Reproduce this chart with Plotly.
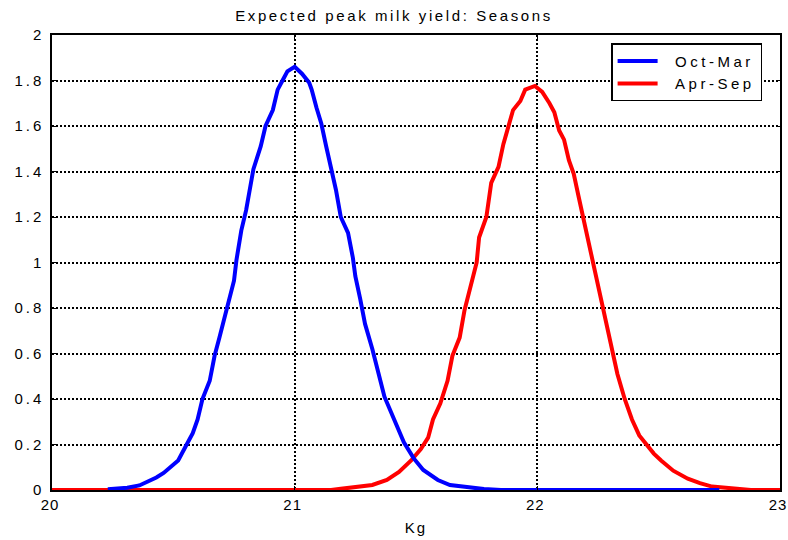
import plotly.graph_objects as go

# Oct-Mar (blue) density estimate
oct_mar_x = [20.23, 20.31, 20.36, 20.40, 20.43, 20.46, 20.49, 20.52, 20.55, 20.58,
             20.60, 20.62, 20.65, 20.67, 20.69, 20.72, 20.75, 20.76, 20.78, 20.80,
             20.83, 20.86, 20.88, 20.91, 20.93, 20.95, 20.97, 21.00, 21.03, 21.06,
             21.07, 21.09, 21.11, 21.13, 21.15, 21.17, 21.19, 21.22, 21.24, 21.25,
             21.27, 21.29, 21.32, 21.34, 21.37, 21.41, 21.45, 21.49, 21.53, 21.59,
             21.64, 21.71, 21.78, 21.85, 22.75]
oct_mar_y = [0.003, 0.010, 0.020, 0.040, 0.055, 0.075, 0.10, 0.13, 0.19, 0.25,
             0.31, 0.40, 0.48, 0.59, 0.67, 0.80, 0.92, 1.01, 1.14, 1.23,
             1.41, 1.51, 1.60, 1.67, 1.76, 1.80, 1.84, 1.86, 1.83, 1.79,
             1.76, 1.68, 1.61, 1.51, 1.42, 1.32, 1.20, 1.13, 1.02, 0.94,
             0.84, 0.73, 0.62, 0.53, 0.41, 0.31, 0.21, 0.14, 0.088, 0.044,
             0.022, 0.013, 0.004, 0.0, 0.0]

# Apr-Sep (red) density estimate
apr_sep_x = [20.00, 21.15, 21.19, 21.27, 21.32, 21.38, 21.43, 21.48, 21.52, 21.55,
             21.57, 21.60, 21.63, 21.65, 21.68, 21.70, 21.73, 21.75, 21.76, 21.79,
             21.81, 21.84, 21.86, 21.88, 21.90, 21.93, 21.95, 21.99, 22.02, 22.05,
             22.07, 22.09, 22.11, 22.13, 22.15, 22.17, 22.19, 22.21, 22.23, 22.25,
             22.27, 22.29, 22.31, 22.33, 22.36, 22.39, 22.42, 22.45, 22.48, 22.51,
             22.56, 22.62, 22.67, 22.72, 22.78, 22.83, 22.88, 23.00]
apr_sep_y = [0.0, 0.0, 0.005, 0.013, 0.022, 0.044, 0.079, 0.13, 0.18, 0.23,
             0.31, 0.38, 0.48, 0.59, 0.67, 0.79, 0.91, 1.00, 1.11, 1.20,
             1.35, 1.42, 1.52, 1.60, 1.67, 1.71, 1.76, 1.776, 1.75, 1.70,
             1.66, 1.58, 1.54, 1.45, 1.39, 1.29, 1.19, 1.10, 1.00, 0.90,
             0.80, 0.70, 0.60, 0.51, 0.40, 0.31, 0.24, 0.20, 0.16, 0.13,
             0.085, 0.050, 0.030, 0.015, 0.010, 0.004, 0.0, 0.0]

x_ticks = [20, 21, 22, 23]
y_ticks = [0, 0.2, 0.4, 0.6, 0.8, 1, 1.2, 1.4, 1.6, 1.8, 2]
y_tick_labels = ["0", "0.2", "0.4", "0.6", "0.8", "1", "1.2", "1.4", "1.6", "1.8", "2"]

FONT = "Liberation Sans, Arial, sans-serif"


def spaced(t, px):
    return f'<span style="letter-spacing:{px}px">{t}</span>'


fig = go.Figure()
fig.add_trace(go.Scatter(x=apr_sep_x, y=apr_sep_y, mode="lines",
                         name="&nbsp;&nbsp;&nbsp;" + spaced("Apr-Sep", 3.5),
                         line=dict(color="#FF0000", width=4), legendrank=2))
fig.add_trace(go.Scatter(x=oct_mar_x, y=oct_mar_y, mode="lines",
                         name="&nbsp;&nbsp;&nbsp;" + spaced("Oct-Mar", 3.5),
                         line=dict(color="#0000FF", width=4), legendrank=1))

axis_common = dict(
    showline=True, linecolor="black", linewidth=1.5, mirror="allticks",
    showgrid=True, gridcolor="black", gridwidth=1.5, griddash="2px,2px",
    zeroline=False, ticks="inside", ticklen=4, tickcolor="black",
    automargin=False,
    tickfont=dict(family=FONT, size=15, color="black"),
)

fig.update_layout(
    width=788, height=540,
    margin=dict(l=52, r=8, t=35, b=50),
    paper_bgcolor="white", plot_bgcolor="white",
    font=dict(family=FONT, size=15, color="black"),
    title=dict(text=spaced("Expected peak milk yield: Seasons", 2.6), x=0.5, xanchor="center",
               y=0.97, yanchor="middle", font=dict(family=FONT, size=15, color="black"),
               automargin=False),
    xaxis=dict(range=[20, 23], tickvals=x_ticks,
               ticktext=[spaced(str(v), 1) for v in x_ticks],
               ticklabeloverflow="allow", ticklabelshift=-2,
               title=dict(text=spaced("Kg", 2), standoff=11,
                          font=dict(family=FONT, size=15, color="black")),
               **axis_common),
    yaxis=dict(range=[0, 2], tickvals=y_ticks,
               ticktext=[spaced(t, 3) for t in y_tick_labels],
               ticklabelstandoff=3,
               **axis_common),
    legend=dict(x=0.768, y=0.982, xanchor="left", yanchor="top",
                bgcolor="white", bordercolor="black", borderwidth=1.5,
                font=dict(family=FONT, size=15, color="black"),
                tracegroupgap=0, itemwidth=40),
    showlegend=True,
)

fig.write_html("out.html")
